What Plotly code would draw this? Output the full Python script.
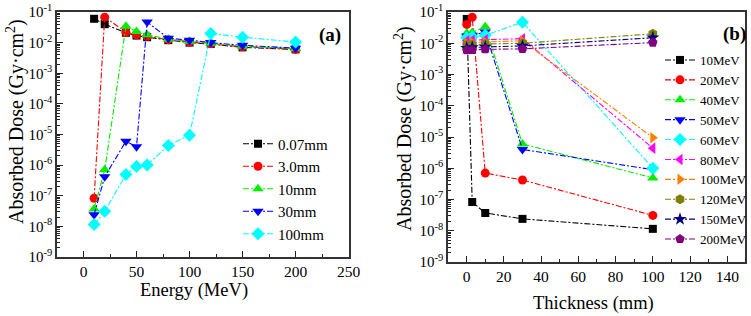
import plotly.graph_objects as go

W, H = 751, 316

# ---------------- data ----------------
energy_mev = [10, 20, 40, 50, 60, 80, 100, 120, 150, 200]
thickness_mm = [0.07, 3.0, 10, 30, 100]
thickness_labels = ["0.07mm", "3.0mm", "10mm", "30mm", "100mm"]
energy_labels = ["10MeV", "20MeV", "40MeV", "50MeV", "60MeV", "80MeV",
                 "100MeV", "120MeV", "150MeV", "200MeV"]

# absorbed dose (Gy·cm^2) vs energy, one list per thickness
dose_t007 = [6.0e-2, 4.0e-2, 2.1e-2, 1.7e-2, 1.5e-2, 1.2e-2, 1.0e-2, 9.0e-3, 7.0e-3, 6.0e-3]
dose_t3 = [8.3e-8, 6.8e-2, 2.2e-2, 1.8e-2, 1.6e-2, 1.25e-2, 1.05e-2, 9.2e-3, 7.3e-3, 6.1e-3]
dose_t10 = [3.7e-8, 7.0e-7, 3.4e-2, 2.3e-2, 1.8e-2, 1.3e-2, 1.1e-2, 9.5e-3, 7.6e-3, 6.4e-3]
dose_t30 = [2.4e-8, 4.2e-7, 6.0e-6, 4.0e-6, 4.7e-2, 1.4e-2, 1.2e-2, 1.0e-2, 8.2e-3, 6.6e-3]
dose_t100 = [1.15e-8, 3.1e-8, 4.9e-7, 9.0e-7, 1.0e-6, 4.4e-6, 9.5e-6, 2.0e-2, 1.5e-2, 1.05e-2]

ytick_vals = [1e-9, 1e-8, 1e-7, 1e-6, 1e-5, 1e-4, 1e-3, 1e-2, 1e-1]
ytick_text = ["10<sup>-9</sup>", "10<sup>-8</sup>", "10<sup>-7</sup>", "10<sup>-6</sup>",
              "10<sup>-5</sup>", "10<sup>-4</sup>", "10<sup>-3</sup>", "10<sup>-2</sup>",
              "10<sup>-1</sup>"]

# ---------------- styles ----------------
series_a = [dose_t007, dose_t3, dose_t10, dose_t30, dose_t100]
colors_a = ["#000000", "#ff0000", "#00ee00", "#0000ff", "#00ffff"]
symbols_a = ["square", "circle", "triangle-up", "triangle-down", "diamond"]
sizes_a = [8, 9, 10, 10, 10]

colors_b = ["#000000", "#ff0000", "#00ee00", "#0000ff", "#00ffff", "#ff00ff",
            "#ff8000", "#808000", "#000080", "#800080"]
symbols_b = ["square", "circle", "triangle-up", "triangle-down", "diamond",
             "triangle-left", "triangle-right", "hexagon", "star", "pentagon"]
sizes_b = [8, 9, 10, 10, 10, 10, 10, 10, 10, 10]

DASH = "6px,2px,2px,2px"
FONT = "Liberation Serif, Times New Roman, serif"

fig = go.Figure()

for lab, ys, c, s, sz in zip(thickness_labels, series_a, colors_a, symbols_a, sizes_a):
    fig.add_trace(go.Scatter(
        x=energy_mev, y=ys, name=lab, mode="lines+markers",
        line=dict(color=c, width=1.1, dash=DASH),
        marker=dict(symbol=s, size=sz, color=c),
        xaxis="x", yaxis="y", legend="legend"))

for i, (lab, c, s, sz) in enumerate(zip(energy_labels, colors_b, symbols_b, sizes_b)):
    ys = [series[i] for series in series_a]
    fig.add_trace(go.Scatter(
        x=thickness_mm, y=ys, name=lab, mode="lines+markers",
        line=dict(color=c, width=1.1, dash=DASH),
        marker=dict(symbol=s, size=sz, color=c),
        xaxis="x2", yaxis="y2", legend="legend2"))

minor_log = [m * 10.0 ** e for e in range(-9, -1) for m in range(2, 10)]

def xax(domain, rng, dtick, mdtick, anchor):
    return dict(domain=domain, range=rng, tick0=0, dtick=dtick, anchor=anchor,
                automargin=False,
                ticks="inside", ticklen=6, tickwidth=1.2, tickcolor="#222",
                minor=dict(ticks="inside", ticklen=3, tickwidth=1, tick0=0, dtick=mdtick,
                           tickcolor="#222"),
                showline=True, mirror=True, linewidth=1.6, linecolor="#333",
                showgrid=False, zeroline=False,
                tickfont=dict(family=FONT, size=15.5, color="black"))

def yax(domain, anchor):
    return dict(domain=domain, type="log", range=[-9, -1], anchor=anchor,
                automargin=False,
                tickmode="array", tickvals=ytick_vals, ticktext=ytick_text,
                ticks="inside", ticklen=6, tickwidth=1.2, tickcolor="#222",
                minor=dict(ticks="inside", ticklen=3, tickwidth=1, tickmode="array",
                           tickvals=minor_log, tickcolor="#222"),
                showline=True, mirror=True, linewidth=1.6, linecolor="#333",
                showgrid=False, zeroline=False,
                tickfont=dict(family=FONT, size=15, color="black"))

def px(x):
    return x / W

def py(y):
    return 1 - y / H

def note(text, x, y, size, angle=0):
    return dict(text=text, x=px(x), y=py(y), xref="paper", yref="paper",
                xanchor="center", yanchor="middle", textangle=angle,
                showarrow=False, font=dict(family=FONT, size=size, color="black"))

fig.update_layout(
    template="none",
    width=W, height=H,
    margin=dict(l=0, r=0, t=0, b=0, autoexpand=False),
    paper_bgcolor="white", plot_bgcolor="white",
    font=dict(family=FONT, color="black"),
    xaxis=xax([px(57), px(349)], [-25, 250.4], 50, 25, "y"),
    yaxis=yax([py(257), py(12)], "x"),
    xaxis2=xax([px(448), px(745)], [-10, 149.5], 20, 10, "y2"),
    yaxis2=yax([py(262), py(12)], "x2"),
    legend=dict(x=px(238), y=py(189), xanchor="left", yanchor="middle",
                bgcolor="rgba(0,0,0,0)", itemwidth=30,
                font=dict(family=FONT, size=15, color="black")),
    legend2=dict(x=px(660), y=py(150), xanchor="left", yanchor="middle",
                 bgcolor="rgba(0,0,0,0)", itemwidth=30,
                 font=dict(family=FONT, size=13, color="black")),
    showlegend=True,
    annotations=[
        note("Absorbed Dose (Gy·cm<sup>2</sup>)", 15, 122, 20, -90),
        note("Absorbed Dose (Gy·cm<sup>2</sup>)", 403, 129, 20, -90),
        note("Energy (MeV)", 194, 290, 18.5),
        note("Thickness (mm)", 593, 303, 18.5),
        note("<b>(a)</b>", 330, 35, 19),
        note("<b>(b)</b>", 734, 34, 19),
    ],
)

fig.write_html("out.html", config={"displayModeBar": False},
               post_script="document.body.style.margin='0px';")
